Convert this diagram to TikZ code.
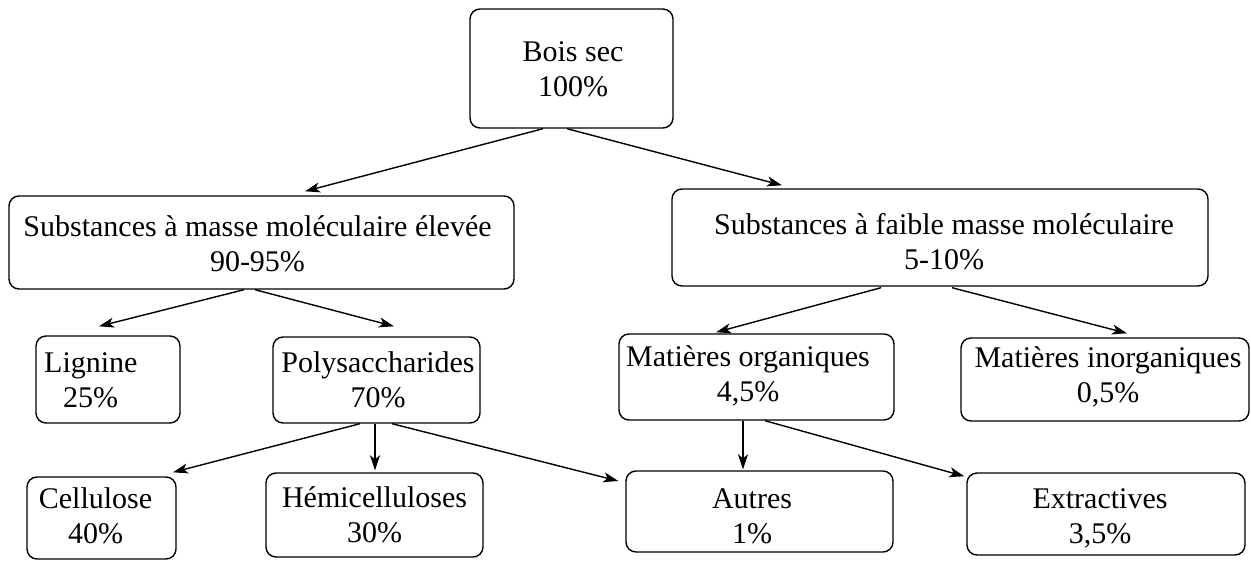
\documentclass[tikz,border=0pt]{standalone}
\usepackage{fontspec}
\setmainfont{Liberation Serif}
\usetikzlibrary{arrows.meta,calc}
\begin{document}
\begin{tikzpicture}[x=1pt,y=-1pt,
  box/.style={draw, rounded corners=10pt, line width=1.4pt, inner sep=0pt},
  lbl/.style={inner sep=0pt, align=center, font=\fontsize{30}{35}\selectfont},
  arr/.style={-{Stealth[length=15pt,width=10pt,inset=4pt]}, line width=1.4pt}]
\useasboundingbox (0,0) rectangle (1251,561);
% boxes
\node[box, minimum width=203pt, minimum height=119pt] (bois)  at (571.5,68.5) {};
\node[box, minimum width=505pt, minimum height=93pt]  (eleve) at (261.5,242.5) {};
\node[box, minimum width=536pt, minimum height=97pt]  (faible) at (940,237.5) {};
\node[box, minimum width=144pt, minimum height=87pt]  (lig)   at (108,379.5) {};
\node[box, minimum width=207pt, minimum height=86pt]  (poly)  at (376.5,380) {};
\node[box, minimum width=275pt, minimum height=86pt]  (org)   at (756.5,377) {};
\node[box, minimum width=288pt, minimum height=83pt]  (inorg) at (1105,379.5) {};
\node[box, minimum width=149pt, minimum height=82pt]  (cell)  at (101.5,518) {};
\node[box, minimum width=217pt, minimum height=84pt]  (hemi)  at (374.5,515) {};
\node[box, minimum width=267pt, minimum height=81pt]  (autres) at (759.5,511.5) {};
\node[box, minimum width=278pt, minimum height=82pt]  (extr)  at (1106,514) {};
% texts
\node[lbl] (tbois)  at (573,69.5)  {Bois sec\\100\%};
\node[lbl] (televe) at (257.5,244) {Substances à masse moléculaire élevée\\90-95\%};
\node[lbl] (tfaible) at (944,242)  {Substances à faible masse moléculaire\\5-10\%};
\node[lbl, anchor=west, align=left] (tlig) at (44,380) {Lignine\\\hspace*{19pt}25\%};
\node[lbl] (tpoly)  at (378,380)   {Polysaccharides\\70\%};
\node[lbl] (torg)   at (748,376)   {Matières organiques\\4,5\%};
\node[lbl] (tinorg) at (1108,377)  {Matières inorganiques\\0,5\%};
\node[lbl] (tcell)  at (95.5,515.5) {Cellulose\\40\%};
\node[lbl] (themi)  at (374.5,515) {Hémicelluloses\\30\%};
\node[lbl] (tautres) at (752,516)  {Autres\\1\%};
\node[lbl] (textr)  at (1100,518)  {Extractives\\3,5\%};
% arrows
\draw[arr] ($(bois.south)+(-28.5,0)$) -- ($(eleve.north)+(43.5,-4)$);
\draw[arr] ($(bois.south)+(-4.5,0)$) -- ($(faible.north)+(-158,-3)$);
\draw[arr] ($(eleve.south)+(-17.5,0)$) -- ($(lig.north)+(-9,-9)$);
\draw[arr] ($(eleve.south)+(-6.5,0)$) -- ($(poly.north)+(17.5,-10)$);
\draw[arr] ($(faible.south)+(-59,1)$) -- ($(org.north)+(-40.5,-1)$);
\draw[arr] ($(faible.south)+(12,1)$) -- ($(inorg.north)+(22,-4)$);
\draw[arr] ($(poly.south)+(-16.5,0)$) -- ($(cell.north)+(71.5,-4)$);
\draw[arr] ($(poly.south)+(-1.5,0)$) -- ($(hemi.north)+(0.5,-2)$);
\draw[arr] ($(poly.south)+(15.5,0)$) -- ($(autres.west)+(-7,-30.5)$);
\draw[arr] ($(org.south)+(-13.5,0)$) -- ($(autres.north)+(-16.5,-1)$);
\draw[arr] ($(org.south)+(8.5,0)$) -- ($(extr.north west)+(-2,4)$);
\end{tikzpicture}
\end{document}
